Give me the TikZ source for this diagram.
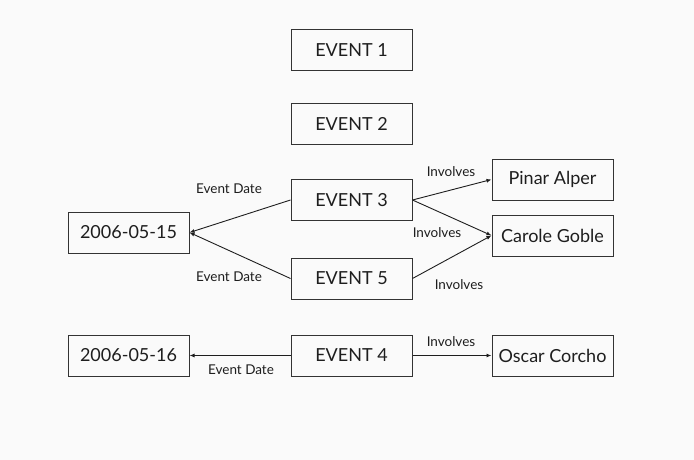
\documentclass[tikz,border=0pt]{standalone}
\usepackage{fontspec}
\setmainfont{Lato}
\usetikzlibrary{arrows.meta}
\definecolor{bg}{HTML}{FAFAFA}
\definecolor{ink}{HTML}{1E1E1E}
\definecolor{edge}{HTML}{333333}
\begin{document}
\begin{tikzpicture}[x=1pt,y=-1pt,
  box/.style={draw=edge,line width=1pt,minimum width=121pt,minimum height=41pt,inner sep=0pt,font=\fontsize{18}{21}\selectfont,text=ink},
  lbl/.style={font=\fontsize{13.5}{15}\selectfont,text=ink,inner sep=0pt},
  conn/.style={draw=ink,line width=0.9pt,-{Latex[length=5pt,width=4pt]}}]
\fill[bg] (0,0) rectangle (694,460);
\useasboundingbox (0,0) rectangle (694,460);
\node[box] (e1) at (351.5,50) {EVENT 1};
\node[box] (e2) at (351.5,124) {EVENT 2};
\node[box] (e3) at (351.5,200) {EVENT 3};
\node[box] (e5) at (351.5,278.5) {EVENT 5};
\node[box] (e4) at (351.5,355.5) {EVENT 4};
\node[box] (d15) at (128.5,232.5) {2006-05-15};
\node[box] (d16) at (128.5,355.5) {2006-05-16};
\node[box] (pa) at (552.5,179.5) {Pinar Alper};
\node[box] (cg) at (552.5,235.5) {Carole Goble};
\node[box] (oc) at (552.5,355.5) {Oscar Corcho};
\draw[conn] (e3.west) -- (d15.east);
\draw[conn] (e5.west) -- (d15.east);
\draw[conn] (e3.east) -- (pa.west);
\draw[conn] (e3.east) -- (cg.west);
\draw[conn] (e5.east) -- (cg.west);
\draw[conn] (e4.west) -- (d16.east);
\draw[conn] (e4.east) -- (oc.west);
\node[lbl] (l1) at (229,188.5) {Event Date};
\node[lbl] (l2) at (229,276.5) {Event Date};
\node[lbl] (l3) at (241,369.5) {Event Date};
\node[lbl] (l4) at (451,171.5) {Involves};
\node[lbl] (l5) at (437,232.5) {Involves};
\node[lbl] (l6) at (459,284.5) {Involves};
\node[lbl] (l7) at (451,341.5) {Involves};
\end{tikzpicture}
\end{document}
